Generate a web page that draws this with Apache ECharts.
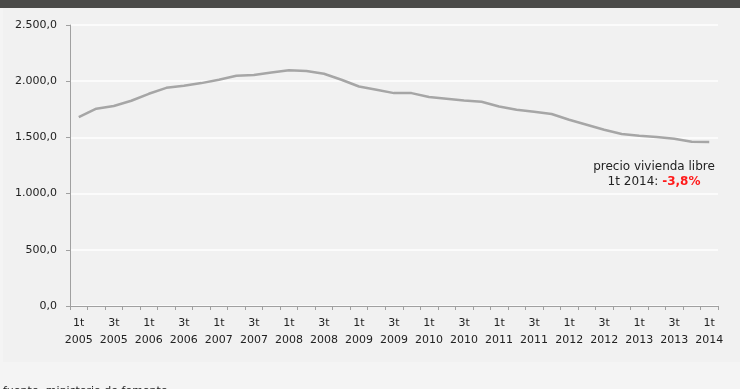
<!DOCTYPE html>
<html><head><meta charset="utf-8">
<script src="https://cdn.jsdelivr.net/npm/echarts@6/dist/echarts.min.js"></script>
<style>html,body{margin:0;padding:0;background:#f4f4f4}#c{width:740px;height:389px}</style>
</head><body><div id="c"></div>
<script>
const quarters = ["1t","2t","3t","4t"];
const years = ["2005","2006","2007","2008","2009","2010","2011","2012","2013","2014"];
const categories = [];
years.forEach(y => quarters.forEach(q => { if (categories.length < 37) categories.push(q + "\n" + y); }));
const precio = [1680,1755,1780,1826,1888,1941,1960,1983,2013,2048,2056,2077,2098,2090,2066,2013,
  1953,1924,1894,1894,1859,1844,1829,1817,1775,1746,1728,1708,1657,1613,1568,1530,
  1515,1504,1488,1462,1459];
const yTicks = [0,500,1000,1500,2000,2500];
const annotation1 = "precio vivienda libre";
const annotation2 = "1t 2014: ";
const annotationVal = "-3,8%";
const source = "fuente: ministerio de fomento";

const fmt = v => {
  const s = v.toFixed(1).split(".");
  return s[0].replace(/\B(?=(\d{3})+(?!\d))/g, ".") + "," + s[1];
};

const chart = echarts.init(document.getElementById('c'), null, {renderer:'canvas'});
chart.setOption({
  backgroundColor: '#f4f4f4',
  animation: false,
  textStyle: {fontFamily: 'DejaVu Sans'},
  graphic: [
    {type:'rect', z:-10, shape:{x:3,y:8,width:737,height:354}, style:{fill:'#f1f1f1'}},
    {type:'rect', z:10, shape:{x:0,y:0,width:740,height:8}, style:{fill:'#4b4b49'}},
    {type:'text', z:10, x:654, y:159, style:{
      text: annotation1 + "\n{a|" + annotation2 + "}{r|" + annotationVal + "}",
      align:'center', font:'12px "DejaVu Sans"', fill:'#222', lineHeight:15,
      rich:{a:{fontSize:12, fill:'#222', fontFamily:'DejaVu Sans', lineHeight:15}, r:{fontSize:12, fill:'#ff1a1a', fontWeight:'bold', fontFamily:'DejaVu Sans', lineHeight:15}}
    }},
    {type:'text', x:3, y:386, style:{text: source, font:'11px "DejaVu Sans"', fill:'#222'}}
  ],
  grid: {left:70, right:22, top:25, bottom:83, containLabel:false},
  xAxis: {
    type:'category', data: categories, boundaryGap:true,
    axisLine:{lineStyle:{color:'#a0a0a0', width:1}},
    axisTick:{show:true, interval:0, length:4, lineStyle:{color:'#a0a0a0'}},
    axisLabel:{interval:1, color:'#222', fontSize:11, lineHeight:17, margin:9, fontFamily:'DejaVu Sans'}
  },
  yAxis: {
    type:'value', min:0, max:2500, interval:500,
    axisLine:{show:true, lineStyle:{color:'#a0a0a0', width:1}},
    axisTick:{show:true, length:4, lineStyle:{color:'#a0a0a0'}},
    axisLabel:{color:'#222', fontSize:11, margin:13, formatter: v => fmt(v), fontFamily:'DejaVu Sans'},
    splitLine:{show:true, lineStyle:{color:'#fbfbfb', width:2}}
  },
  series: [{
    type:'line', data: precio, symbol:'none', smooth:false,
    lineStyle:{color:'#a6a6a6', width:2.5}
  }]
});
</script></body></html>
